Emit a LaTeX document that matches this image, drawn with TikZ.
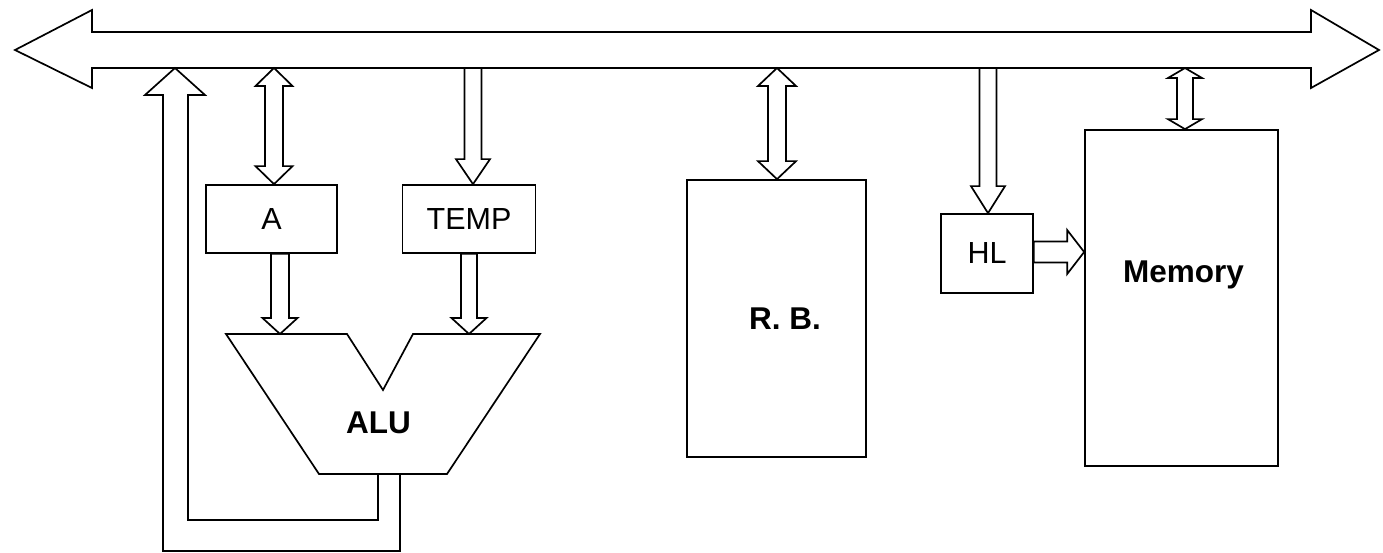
\documentclass[tikz,border=0pt]{standalone}
\usepackage{fontspec}
\setmainfont{Liberation Sans}
\usetikzlibrary{calc}
\tikzset{
  blk/.style={draw,line width=1.7pt,line join=miter},
  box/.style={draw,line width=1.7pt,inner sep=0pt,font=\fontsize{30.5}{36}\selectfont},
  lbl/.style={font=\fontsize{31.5}{36}\selectfont\bfseries,inner sep=0pt,anchor=base}
}
% vertical double block arrow: #1 top, #2 bottom, #3 head half width, #4 shaft half width, #5 head length
\newcommand\DArrowV[5]{%
  \draw[blk] let \p1=(#1), \p2=(#2) in
    (\x1,\y1) -- (\x1+#3pt,\y1-#5pt) -- (\x1+#4pt,\y1-#5pt) -- (\x1+#4pt,\y2+#5pt)
    -- (\x1+#3pt,\y2+#5pt) -- (\x1,\y2) -- (\x1-#3pt,\y2+#5pt) -- (\x1-#4pt,\y2+#5pt)
    -- (\x1-#4pt,\y1-#5pt) -- (\x1-#3pt,\y1-#5pt) -- cycle;}
% downward single block arrow: #1 tail (top), #2 tip
\newcommand\SArrowDown[5]{%
  \draw[blk] let \p1=(#1), \p2=(#2) in
    (\x1-#4pt,\y1) -- (\x1+#4pt,\y1) -- (\x1+#4pt,\y2+#5pt) -- (\x1+#3pt,\y2+#5pt)
    -- (\x1,\y2) -- (\x1-#3pt,\y2+#5pt) -- (\x1-#4pt,\y2+#5pt) -- cycle;}
% rightward single block arrow: #1 tail, #2 tip
\newcommand\SArrowRight[5]{%
  \draw[blk] let \p1=(#1), \p2=(#2) in
    (\x1,\y2+#4pt) -- (\x2-#5pt,\y2+#4pt) -- (\x2-#5pt,\y2+#3pt) -- (\x2,\y2)
    -- (\x2-#5pt,\y2-#3pt) -- (\x2-#5pt,\y2-#4pt) -- (\x1,\y2-#4pt) -- cycle;}
\begin{document}
\begin{tikzpicture}[x=1pt,y=-1pt]
\useasboundingbox (0,0) rectangle (1383,553);
\coordinate (busB) at (0,68);
% bus
\draw[blk] (15,50) -- (92,10) -- (92,32) -- (1311,32) -- (1311,10) -- (1379,50)
  -- (1311,88) -- (1311,68) -- (92,68) -- (92,88) -- cycle;
% boxes
\node[box,minimum width=131pt,minimum height=68pt] (A) at (271.5,219) {A};
\node[box,minimum width=133pt,minimum height=68pt] (T) at (469,219) {TEMP};
\node[box,minimum width=179pt,minimum height=277pt] (RB) at (776.5,318.5) {};
\node[lbl] (RBl) at (785,329) {R. B.};
\node[box,minimum width=92pt,minimum height=79pt] (HL) at (987,253.5) {HL};
\node[box,minimum width=193pt,minimum height=336pt] (M) at (1181.5,298) {};
\node[lbl] (Ml) at (1183.5,282) {Memory};
% ALU
\draw[blk] (226,334) coordinate (aluTL) -- (347,334) -- (383,390) -- (413,334)
  -- (540,334) -- (447,474) -- (319,474) -- cycle;
\node[lbl] (ALUl) at (378.5,433) {ALU};
% block arrows
\DArrowV{$(A.north|-busB)+(2.5,0)$}{$(A.north)+(2.5,0)$}{18.5}{9}{18}
\SArrowDown{$(T.north|-busB)+(4,0)$}{$(T.north)+(4,0)$}{17}{8.5}{25}
\SArrowDown{$(A.south)+(8.5,0)$}{$(A.south|-aluTL)+(8.5,0)$}{17.5}{9}{16}
\SArrowDown{T.south}{T.south|-aluTL}{17.5}{8}{16}
\DArrowV{$(RB.north|-busB)+(0.5,0)$}{$(RB.north)+(0.5,0)$}{19}{9}{18}
\SArrowDown{$(HL.north|-busB)+(1,0)$}{$(HL.north)+(1,0)$}{17}{8.5}{27}
\DArrowV{$(M.north|-busB)+(3.5,0)$}{$(M.north)+(3.5,0)$}{17}{8}{10}
\SArrowRight{HL.east}{$(M.west|-HL.east)+(0,-1.5)$}{22}{10.5}{17}
% feedback from ALU to bus
\draw[blk] (400,474) -- (400,551) -- (163,551) -- (163,95) -- (145,95) -- (175,68)
  -- (205,95) -- (188,95) -- (188,520) -- (378,520) -- (378,474);
\end{tikzpicture}
\end{document}
